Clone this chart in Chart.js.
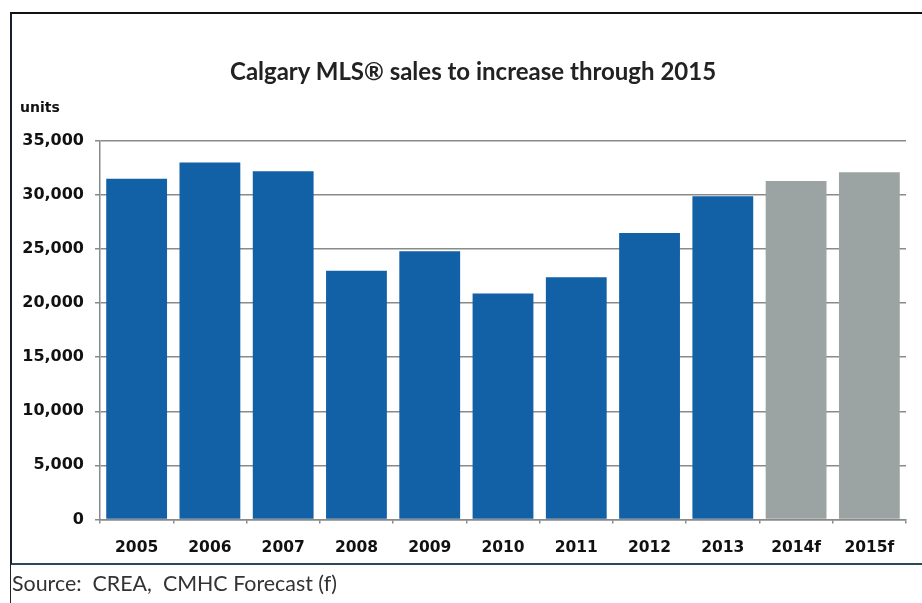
<!DOCTYPE html>
<html lang="en">
<head>
    <meta charset="UTF-8">
    <title>Calgary MLS sales</title>

    <style>
        html, body {
            margin: 0;
            padding: 0;
            background: #fff;
        }

        #page {
            position: relative;
            width: 922px;
            height: 603px;
            overflow: hidden;
        }

        #frame {
            position: absolute;
            left: 10px;
            top: 12px;
            width: 930px;
            height: 549px;
            border-left: 2px solid #15202a;
            border-top: 2px solid #111;
            border-bottom: 2px solid #2b4a57;
        }

        #rule {
            position: absolute;
            left: 10px;
            top: 560px;
            width: 1px;
            height: 43px;
            background: #222;
        }

        #title {
            position: absolute;
            left: 230px;
            top: 56px;
            white-space: nowrap;
            font: bold 24px Lato, sans-serif;
            color: #222;
        }

        #units {
            position: absolute;
            left: 20px;
            top: 99px;
            font: bold 14px "DejaVu Sans", sans-serif;
            color: #111;
        }

        #source {
            position: absolute;
            left: 12px;
            top: 570px;
            font: 21.4px Lato, sans-serif;
            color: #333;
            white-space: pre;
        }

        #chart-box {
            position: absolute;
            left: 0;
            top: 0;
            width: 922px;
            height: 603px;
        }
    </style>
</head>
<body>
<div id="page">
    <div id="frame"></div>
    <div id="rule"></div>
    <div id="chart-box">
        <canvas id="sales-chart" width="922" height="603"></canvas>
    </div>
    <div id="title">Calgary MLS® sales to increase through 2015</div>
    <div id="units">units</div>
    <div id="source">Source:  CREA,  CMHC Forecast (f)</div>
</div>
<script src="https://cdn.jsdelivr.net/npm/chart.js@4.4.1/dist/chart.umd.min.js"></script>
<script>
    const years = ["2005", "2006", "2007", "2008", "2009", "2010", "2011", "2012", "2013", "2014f", "2015f"];
    const sales = [31500, 33000, 32200, 23000, 24800, 20900, 22400, 26500, 29900, 31300, 32100];
    const yTicks = [0, 5000, 10000, 15000, 20000, 25000, 30000, 35000];

    const blue = "#1261a6";
    const grey = "#9ba4a2";
    const lineGrey = "#8a8a8a";

    // forecast years (the "f" ones) get the grey fill
    const barColours = years.map(y => y.endsWith("f") ? grey : blue);

    new Chart("sales-chart", {
        type: "bar",
        data: {
            labels: years,
            datasets: [{
                label: "MLS sales",
                data: sales,
                backgroundColor: barColours,
                borderWidth: 0,
                barPercentage: 0.83,
                categoryPercentage: 1.0
            }]
        },
        options: {
            responsive: false,
            animation: false,
            devicePixelRatio: 1,
            layout: {
                // top space holds the title and "units" label
                padding: {top: 141, left: 0, right: 16, bottom: 30}
            },
            plugins: {
                legend: {display: false},
                tooltip: {enabled: false}
            },
            scales: {
                x: {
                    grid: {
                        drawOnChartArea: false,
                        drawTicks: true,
                        tickLength: 4,
                        color: lineGrey,
                        lineWidth: 1.5
                    },
                    border: {color: lineGrey, width: 1.5},
                    ticks: {
                        color: "#111",
                        padding: 15.5,
                        maxRotation: 0,
                        font: {family: "DejaVu Sans", size: 15.5, weight: "bold"}
                    }
                },
                y: {
                    min: 0,
                    max: 35000,
                    afterFit: scale => {
                        scale.width = 100;
                    },
                    afterBuildTicks: scale => {
                        scale.ticks = yTicks.map(v => ({value: v}));
                    },
                    grid: {
                        color: lineGrey,
                        lineWidth: 1.5,
                        tickLength: 5
                    },
                    border: {color: lineGrey, width: 1.5},
                    ticks: {
                        color: "#111",
                        padding: 11,
                        font: {family: "DejaVu Sans", size: 16, weight: "bold"},
                        callback: v => v.toLocaleString("en-US")
                    }
                }
            }
        }
    });
</script>
</body>
</html>
